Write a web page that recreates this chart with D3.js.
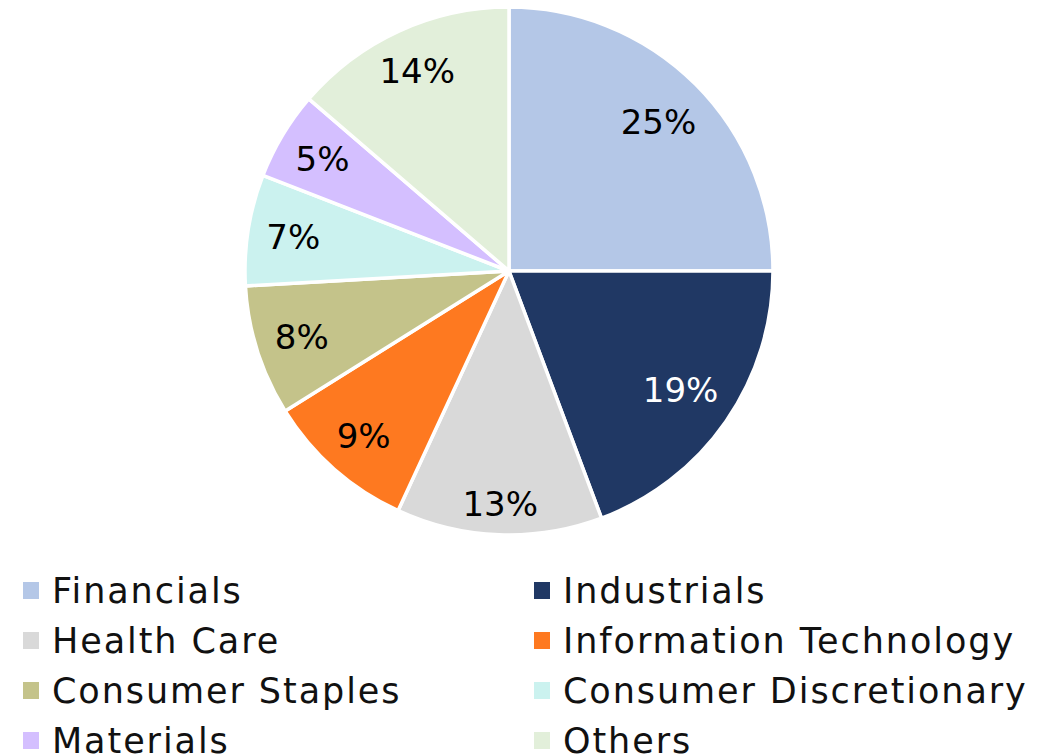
<!DOCTYPE html>
<html><head><meta charset="utf-8">
<script src="https://cdn.jsdelivr.net/npm/d3@7"></script>
<style>html,body{margin:0;padding:0;background:#fff;}svg{display:block;}</style>
</head><body>
<svg id="chart" width="1045" height="755"></svg>
<script>
const categories = ["Financials","Industrials","Health Care","Information Technology","Consumer Staples","Consumer Discretionary","Materials","Others"];
const values = [25.0, 19.3, 12.6, 9.2, 8.0, 6.8, 5.4, 13.7];
const colors = ["#b4c7e7","#203864","#d9d9d9","#fe7920","#c4c38a","#cbf2ef","#d4bfff","#e2efda"];
const labelColors = ["#000","#fff","#000","#000","#000","#000","#000","#000"];

const svg = d3.select("#chart");
const cx = 509, cy = 271, R = 264;
const FONT = "'DejaVu Sans', sans-serif";

const data = categories.map((c,i)=>({cat:c, value:values[i], color:colors[i], lc:labelColors[i]}));
const pie = d3.pie().sort(null).value(d=>d.value);
const arcs = pie(data);
const arc = d3.arc().innerRadius(0).outerRadius(R);

const g = svg.append("g").attr("transform", `translate(${cx},${cy})`);
g.selectAll("path").data(arcs).join("path")
  .attr("d", arc).attr("fill", d=>d.data.color)
  .attr("stroke", "#fff").attr("stroke-width", 3.5).attr("stroke-linejoin","round");

// labels placed inside the end, box kept a fixed margin from the rim
const labels = g.selectAll("text").data(arcs).join("text")
  .attr("text-anchor","middle").attr("dy","0.36em")
  .attr("font-family", FONT).attr("font-size", 34).attr("fill", d=>d.data.lc)
  .text(d=>Math.round(d.data.value)+"%");
labels.each(function(d){
  const w = this.getComputedTextLength(), h = 25;
  const a = (d.startAngle + d.endAngle)/2;
  const s = Math.sin(a), c = Math.cos(a);
  const ext = Math.abs(s)*w/2 + Math.abs(c)*h/2;
  const r = R - 17 - ext;
  d3.select(this).attr("x", r*s).attr("y", -r*c);
});

// legend: 2 columns, 4 rows
const colX = [23, 534], rowY0 = 590, rowH = 50;
const lg = svg.append("g");
const items = lg.selectAll("g").data(data).join("g")
  .attr("transform",(d,i)=>`translate(${colX[i%2]},${rowY0 + Math.floor(i/2)*rowH})`);
items.append("rect").attr("x",0).attr("y",-8).attr("width",16).attr("height",17).attr("fill",d=>d.color);
const lt = items.append("text").attr("x",29).attr("y",0).attr("dy","0.36em")
  .attr("font-family", FONT).attr("font-size", 35).attr("fill","#111")
  .text(d=>d.cat);
// widen spacing to match the reference's wide typeface
let ref = lt.filter(d=>d.cat==="Information Technology").node();
const w0 = ref.getComputedTextLength();
const ls = Math.max(0, (450 - w0) / (ref.textContent.length - 1));
lt.attr("letter-spacing", ls.toFixed(2));
</script>
</body></html>
